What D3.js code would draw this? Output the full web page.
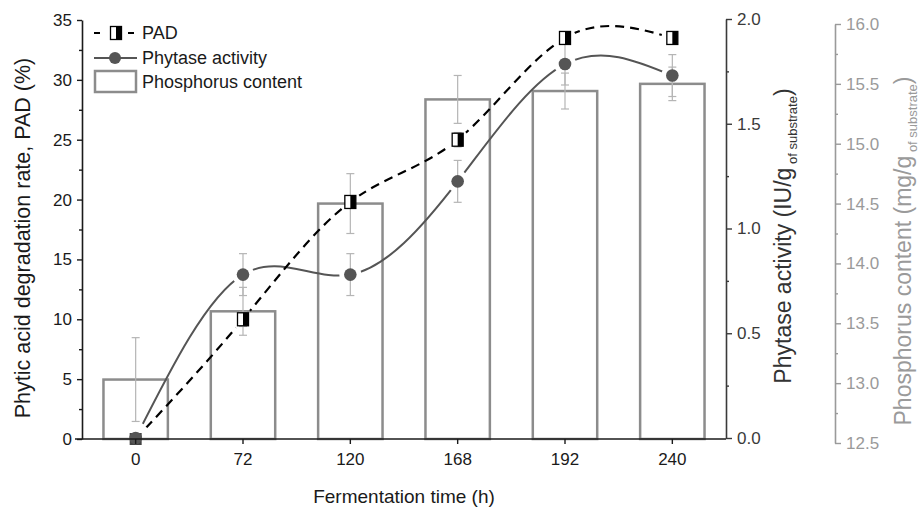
<!DOCTYPE html>
<html>
<head>
<meta charset="utf-8">
<script src="https://cdn.jsdelivr.net/npm/d3@7"></script>
<style>
body { margin: 0; background: #fff; }
svg { font-family: "Liberation Sans", Arial, sans-serif; }
</style>
</head>
<body>
<div id="chart"></div>
<script>
// fermentation times (h)
var times = ["0", "72", "120", "168", "192", "240"];
// PAD (%), left axis
var padValues = [0, 10.0, 19.8, 25.0, 33.5, 33.5];
var padErr = [0, 0.6, 0.5, 0.6, 0.5, 0.5];
// phytase activity (IU/g), first right axis
var phyValues = [0, 0.78, 0.78, 1.225, 1.785, 1.73];
var phyErr = [0, 0.1, 0.1, 0.1, 0.1, 0.1];
// phosphorus content (mg/g), second right axis
var phosValues = [13.03, 13.6, 14.5, 15.37, 15.44, 15.5];
var phosErr = [0.35, 0.2, 0.25, 0.2, 0.15, 0.14];

var padTicks = [0, 5, 10, 15, 20, 25, 30, 35];
var phyTicks = [0, 0.5, 1.0, 1.5, 2.0];
var phosTicks = [12.5, 13.0, 13.5, 14.0, 14.5, 15.0, 15.5, 16.0];

var w = 920, h = 514;
var pLeft = 82, pRight = 726, pTop = 20, pBottom = 439;

var svg = d3.select("#chart").append("svg")
    .attr("width", w)
    .attr("height", h);

var xscale = d3.scaleBand().domain(times)
    .range([pLeft, pRight])
    .paddingInner(0.4).paddingOuter(0.2);
var xc = function (t) { return xscale(t) + xscale.bandwidth() / 2; };
var yscale = d3.scaleLinear().domain([0, 35]).range([pBottom, pTop]);
var pscale = d3.scaleLinear().domain([0, 2]).range([pBottom - 1, pTop - 1]);
var phscale = d3.scaleLinear().domain([12.5, 16]).range([pBottom + 4, pTop + 4]);

var phosColor = "#9a9a9a", barColor = "#8c8c8c", errColor = "#b5b5b5";
var phyColor = "#555555", axisDark = "#3a3a3a";

// bars
svg.selectAll("rect.bar")
    .data(phosValues)
  .enter().append("rect")
    .attr("class", "bar")
    .attr("x", function (d, i) { return xscale(times[i]); })
    .attr("width", xscale.bandwidth())
    .attr("y", function (d) { return phscale(d); })
    .attr("height", function (d) { return pBottom - phscale(d); })
    .attr("fill", "#fff")
    .attr("stroke", barColor)
    .attr("stroke-width", 2.5);

// error bars
function errorBars(vals, errs, scale, cls) {
    var g = svg.append("g").attr("class", cls);
    vals.forEach(function (v, i) {
        if (!errs[i]) return;
        var x = xc(times[i]);
        var y0 = scale(v - errs[i]), y1 = scale(v + errs[i]);
        g.append("line").attr("x1", x).attr("x2", x).attr("y1", y0).attr("y2", y1);
        g.append("line").attr("x1", x - 4).attr("x2", x + 4).attr("y1", y0).attr("y2", y0);
        g.append("line").attr("x1", x - 4).attr("x2", x + 4).attr("y1", y1).attr("y2", y1);
    });
    g.selectAll("line").attr("stroke", errColor).attr("stroke-width", 1.2);
}
errorBars(phosValues, phosErr, phscale, "err-phos");
errorBars(padValues, padErr, yscale, "err-pad");
errorBars(phyValues, phyErr, pscale, "err-phy");

// masks so the lines stop short of the symbols
var defs = svg.append("defs");
function makeMask(id, vals, scale) {
    var m = defs.append("mask").attr("id", id).attr("maskUnits", "userSpaceOnUse")
        .attr("x", 0).attr("y", 0).attr("width", w).attr("height", h);
    m.append("rect").attr("width", w).attr("height", h).attr("fill", "#fff");
    vals.forEach(function (v, i) {
        m.append("circle").attr("cx", xc(times[i])).attr("cy", scale(v))
            .attr("r", i == 0 ? 16 : 11).attr("fill", "#000");
    });
}
makeMask("m-pad", padValues, yscale);
makeMask("m-phy", phyValues, pscale);

var padLine = d3.line()
    .x(function (d, i) { return xc(times[i]); })
    .y(function (d) { return yscale(d); })
    .curve(d3.curveNatural);
var phyLine = d3.line()
    .x(function (d, i) { return xc(times[i]); })
    .y(function (d) { return pscale(d); })
    .curve(d3.curveNatural);

svg.append("path").attr("d", phyLine(phyValues))
    .attr("fill", "none").attr("stroke", phyColor).attr("stroke-width", 2)
    .attr("mask", "url(#m-phy)");
svg.append("path").attr("d", padLine(padValues))
    .attr("fill", "none").attr("stroke", "#000").attr("stroke-width", 2.2)
    .attr("stroke-dasharray", "9,6")
    .attr("mask", "url(#m-pad)");

// PAD symbols: half open / half filled squares
function padSymbol(g, x, y) {
    g.append("rect").attr("x", x - 5.5).attr("y", y - 6.5).attr("width", 11).attr("height", 13)
        .attr("fill", "#fff").attr("stroke", "#000").attr("stroke-width", 1.3);
    g.append("rect").attr("x", x).attr("y", y - 6.5).attr("width", 5.5).attr("height", 13)
        .attr("fill", "#000");
}
var padG = svg.append("g");
padValues.forEach(function (v, i) {
    if (i == 0) {
        // at t=0 both symbols coincide and read as one dark square
        padG.append("rect").attr("x", xc(times[i]) - 6).attr("y", yscale(v) - 6)
            .attr("width", 12).attr("height", 12).attr("fill", "#444");
        return;
    }
    padSymbol(padG, xc(times[i]), yscale(v));
});

svg.selectAll("circle.phy")
    .data(phyValues)
  .enter().append("circle")
    .attr("class", "phy")
    .attr("cx", function (d, i) { return xc(times[i]); })
    .attr("cy", function (d) { return pscale(d); })
    .attr("r", 6.3)
    .attr("fill", phyColor);

// axes
function styleAxis(g, color, size) {
    g.select(".domain").attr("stroke", color).attr("stroke-width", 1.6);
    g.selectAll(".tick line").attr("stroke", color).attr("stroke-width", 1.4);
    g.selectAll(".tick text").attr("fill", color).attr("font-size", size)
        .attr("font-family", "Liberation Sans, Arial, sans-serif");
}

var yaxis = d3.axisLeft(yscale).tickValues(padTicks).tickSize(5).tickSizeOuter(0).tickPadding(5);
var yminor = d3.axisLeft(yscale).tickValues(d3.range(2.5, 35, 5)).tickSize(3).tickFormat("");
var gy = svg.append("g").attr("transform", "translate(" + pLeft + ",0)").call(yaxis);
styleAxis(gy, "#1a1a1a", 17);
var gym = svg.append("g").attr("transform", "translate(" + pLeft + ",0)").call(yminor);
styleAxis(gym, "#1a1a1a", 17);
gym.select(".domain").remove();

var paxis = d3.axisRight(pscale).tickValues(phyTicks).tickSize(6).tickSizeOuter(0)
    .tickPadding(5).tickFormat(d3.format(".1f"));
var pminor = d3.axisRight(pscale).tickValues([0.25, 0.75, 1.25, 1.75]).tickSize(3).tickFormat("");
var gp = svg.append("g").attr("transform", "translate(" + pRight + ",0)").call(paxis);
styleAxis(gp, axisDark, 17);
var gpm = svg.append("g").attr("transform", "translate(" + pRight + ",0)").call(pminor);
styleAxis(gpm, axisDark, 17);
gpm.select(".domain").remove();

var phAxisX = 835;
var phaxis = d3.axisRight(phscale).tickValues(phosTicks).tickSize(6).tickSizeOuter(0)
    .tickPadding(5).tickFormat(d3.format(".1f"));
var phminor = d3.axisRight(phscale).tickValues(d3.range(12.75, 16, 0.5)).tickSize(3).tickFormat("");
var gph = svg.append("g").attr("transform", "translate(" + phAxisX + ",0)").call(phaxis);
styleAxis(gph, phosColor, 17);
var gphm = svg.append("g").attr("transform", "translate(" + phAxisX + ",0)").call(phminor);
styleAxis(gphm, phosColor, 17);
gphm.select(".domain").remove();

var xaxis = d3.axisBottom(xscale).tickSize(5).tickSizeOuter(0).tickPadding(9);
var gx = svg.append("g").attr("transform", "translate(0," + pBottom + ")").call(xaxis);
styleAxis(gx, "#1a1a1a", 17);
gx.select(".domain").remove();
gx.append("line").attr("x1", pLeft - 7).attr("x2", pRight).attr("y1", 0).attr("y2", 0)
    .attr("stroke", "#1a1a1a").attr("stroke-width", 1.6);

// axis titles
svg.append("text")
    .attr("x", (pLeft + pRight) / 2).attr("y", 503)
    .attr("text-anchor", "middle").attr("font-size", 19).attr("fill", "#1a1a1a")
    .text("Fermentation time (h)");

svg.append("text")
    .attr("transform", "translate(30,238) rotate(-90)")
    .attr("text-anchor", "middle").attr("font-size", 21.5).attr("fill", "#1a1a1a")
    .text("Phytic acid degradation rate, PAD (%)");

function rightTitle(x, y, main, color) {
    var t = svg.append("text")
        .attr("transform", "translate(" + x + "," + y + ") rotate(-90)")
        .attr("text-anchor", "middle").attr("font-size", 23).attr("fill", color);
    t.append("tspan").text(main);
    t.append("tspan").attr("font-size", 13).attr("dy", 6).text(" of substrate");
    t.append("tspan").attr("dy", -6).text(")");
}
rightTitle(791, 236, "Phytase activity (IU/g", "#333");
rightTitle(911, 251, "Phosphorus content (mg/g", phosColor);

// legend
var lg = svg.append("g");
lg.append("line").attr("x1", 94).attr("x2", 134).attr("y1", 33).attr("y2", 33)
    .attr("stroke", "#000").attr("stroke-width", 2.2).attr("stroke-dasharray", "6,28");
padSymbol(lg, 116, 33);
lg.append("line").attr("x1", 94).attr("x2", 137).attr("y1", 58).attr("y2", 58)
    .attr("stroke", phyColor).attr("stroke-width", 2);
lg.append("circle").attr("cx", 115).attr("cy", 58).attr("r", 6).attr("fill", phyColor);
lg.append("rect").attr("x", 95).attr("y", 71).attr("width", 41).attr("height", 21)
    .attr("fill", "#fff").attr("stroke", barColor).attr("stroke-width", 2.5);
var legendNames = ["PAD", "Phytase activity", "Phosphorus content"];
lg.selectAll("text").data(legendNames).enter().append("text")
    .attr("x", 142).attr("y", function (d, i) { return 33 + i * 24.5; })
    .attr("dy", "0.35em").attr("font-size", 18).attr("fill", "#1a1a1a")
    .text(function (d) { return d; });
</script>
</body>
</html>
